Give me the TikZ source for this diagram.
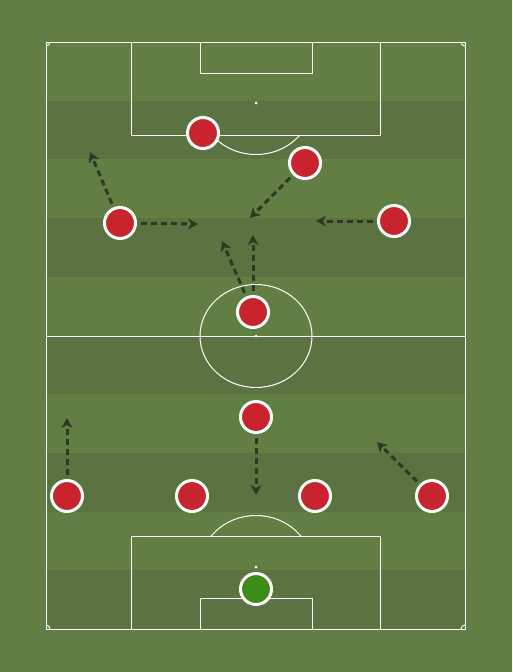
\documentclass[tikz,border=0pt]{standalone}
\usetikzlibrary{arrows.meta,shadows}
\definecolor{grass}{HTML}{627F43}
\definecolor{stripe}{HTML}{5A7340}
\definecolor{kit}{HTML}{C9232E}
\definecolor{keeper}{HTML}{3A8C17}
\definecolor{runcol}{HTML}{2B3A22}
\begin{document}
\begin{tikzpicture}[x=1pt,y=-1pt,
  pitchline/.style={draw=white, line width=1pt},
  band/.style={fill=stripe, draw=none},
  player/.style={circle, fill=kit, draw=white, line width=3pt, minimum size=31pt, inner sep=0pt,
     drop shadow={shadow xshift=0.5pt, shadow yshift=-1.5pt, opacity=0.3}},
  goalie/.style={player, fill=keeper},
  run/.style={draw=runcol, line width=3pt, dash pattern=on 6pt off 4pt,
     -{Stealth[length=10pt,width=11pt,inset=3pt]}, shorten <=4pt}
]
% background
\fill[grass] (0,0) rectangle (512,672);
\useasboundingbox (0,0) rectangle (512,672);
% stripes
\foreach \i in {1,3,5,7,9}{
  \fill[band] (46,{42+\i*58.7}) rectangle (465,{42+(\i+1)*58.7});
}
% pitch markings
\draw[pitchline] (46,42) rectangle (465,629);
\draw[pitchline] (46,336) -- (465,336);
\draw[pitchline] (256,336) ellipse [x radius=56, y radius=51.5];
\fill[white] (256,336) circle (1.5);
% top
\draw[pitchline] (131,42) rectangle (380,135);
\draw[pitchline] (200,42) rectangle (312,73);
\fill[white] (256,103) circle (1.5);
\begin{scope}
  \clip (131,135) rectangle (380,200);
  \draw[pitchline] (256,103) ellipse [x radius=56, y radius=51.5];
\end{scope}
% bottom
\draw[pitchline] (131,536) rectangle (380,629);
\draw[pitchline] (200,598) rectangle (312,629);
\fill[white] (256,567) circle (1.5);
\begin{scope}
  \clip (131,470) rectangle (380,536);
  \draw[pitchline] (256,567) ellipse [x radius=56, y radius=51.5];
\end{scope}
% corner arcs
\begin{scope}
  \clip (46,42) rectangle (465,629);
  \draw[pitchline] (46,42) circle (4);
  \draw[pitchline] (465,42) circle (4);
  \draw[pitchline] (46,629) circle (4);
  \draw[pitchline] (465,629) circle (4);
\end{scope}
% players
\node[player] (p1) at (203,133) {};
\node[player] (p2) at (305,163) {};
\node[player] (p3) at (120,223) {};
\node[player] (p4) at (394,221) {};
\node[player] (p5) at (253,312) {};
\node[player] (p6) at (256,417) {};
\node[player] (p7) at (67,496) {};
\node[player] (p8) at (192,496) {};
\node[player] (p9) at (315,496) {};
\node[player] (p10) at (432,496) {};
\node[goalie] (gk) at (256,589) {};
% run targets
\coordinate (t1) at (90,152);
\coordinate (t2) at (198,224);
\coordinate (t3) at (250,218);
\coordinate (t4) at (316,221);
\coordinate (t5) at (253,235);
\coordinate (t6) at (222,241);
\coordinate (t7) at (67,418);
\coordinate (t8) at (256,495);
\coordinate (t9) at (377,442);
% runs
\draw[run] (p3) -- (t1);
\draw[run] (p3) -- (t2);
\draw[run] (p2) -- (t3);
\draw[run] (p4) -- (t4);
\draw[run] (p5) -- (t5);
\draw[run] (p5) -- (t6);
\draw[run] (p7) -- (t7);
\draw[run] (p6) -- (t8);
\draw[run] (p10) -- (t9);
\end{tikzpicture}
\end{document}
